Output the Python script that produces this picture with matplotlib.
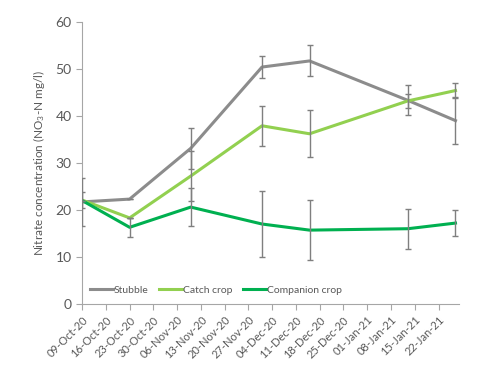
import numpy as np
import pandas as pd
import matplotlib
matplotlib.use("Agg")
import matplotlib.pyplot as plt
import matplotlib.dates as mdates

# sampling dates and nitrate values (NO3-N mg/l)
dates = pd.to_datetime(["2020-10-09", "2020-10-23", "2020-11-10", "2020-12-01",
                        "2020-12-15", "2021-01-13", "2021-01-27"])
stubble = [21.7, 22.3, 33.1, 50.4, 51.7, 43.3, 39.0]
stubble_err = [5.1, 0.0, 4.3, 2.4, 3.3, 3.2, 5.0]
catch_crop = [22.1, 18.3, 27.2, 37.9, 36.2, 43.2, 45.4]
catch_err = [1.7, 0.0, 5.4, 4.2, 5.0, 1.5, 1.5]
companion = [22.0, 16.3, 20.6, 17.0, 15.7, 16.0, 17.2]
companion_err = [0.0, 2.0, 4.1, 7.0, 6.4, 4.3, 2.7]

tick_dates = pd.date_range("2020-10-09", "2021-01-22", freq="7D")

txt = "#595959"
plt.rcParams['font.family'] = ['Lato', 'DejaVu Sans']
plt.rcParams['mathtext.default'] = 'regular'

fig = plt.figure(figsize=(4.8, 3.78), dpi=100)
ax = fig.add_axes([0.171, 0.196, 0.785, 0.746])

series = [("Stubble", stubble, stubble_err, "#8c8c8c"),
          ("Catch crop", catch_crop, catch_err, "#92d050"),
          ("Companion crop", companion, companion_err, "#00b050")]
for name, vals, err, col in series:
    ax.plot(dates, vals, color=col, lw=2.2, label=name, zorder=3)
for name, vals, err, col in series:
    ax.errorbar(dates, vals, yerr=err, fmt='none', ecolor="#7f7f7f",
                elinewidth=1.0, capsize=2.5, capthick=1.0, zorder=4)

ax.set_ylim(0, 60)
ax.set_yticks(range(0, 61, 10))
ax.set_xlim(pd.Timestamp("2020-10-09"), pd.Timestamp("2021-01-28"))
ax.set_xticks(tick_dates)
ax.xaxis.set_major_formatter(mdates.DateFormatter("%d-%b-%y"))
plt.setp(ax.get_xticklabels(), rotation=45, ha="right", rotation_mode="anchor")

for s in ["top", "right"]:
    ax.spines[s].set_visible(False)
for s in ["left", "bottom"]:
    ax.spines[s].set_color("#a6a6a6")
ax.tick_params(colors="#a6a6a6", labelcolor=txt, labelsize=10, length=4)
ax.tick_params(axis='x', labelsize=8)
ax.set_ylabel("Nitrate concentration (NO$_3$-N mg/l)", color=txt, fontsize=8.5,
              labelpad=6)

ax.legend(loc="lower center", bbox_to_anchor=(0.355, 0.0), ncol=3, frameon=False,
          fontsize=7.5, handlelength=2.2, handletextpad=0.1, columnspacing=1.0,
          labelcolor=txt)

fig.savefig("out.png", dpi=100)
